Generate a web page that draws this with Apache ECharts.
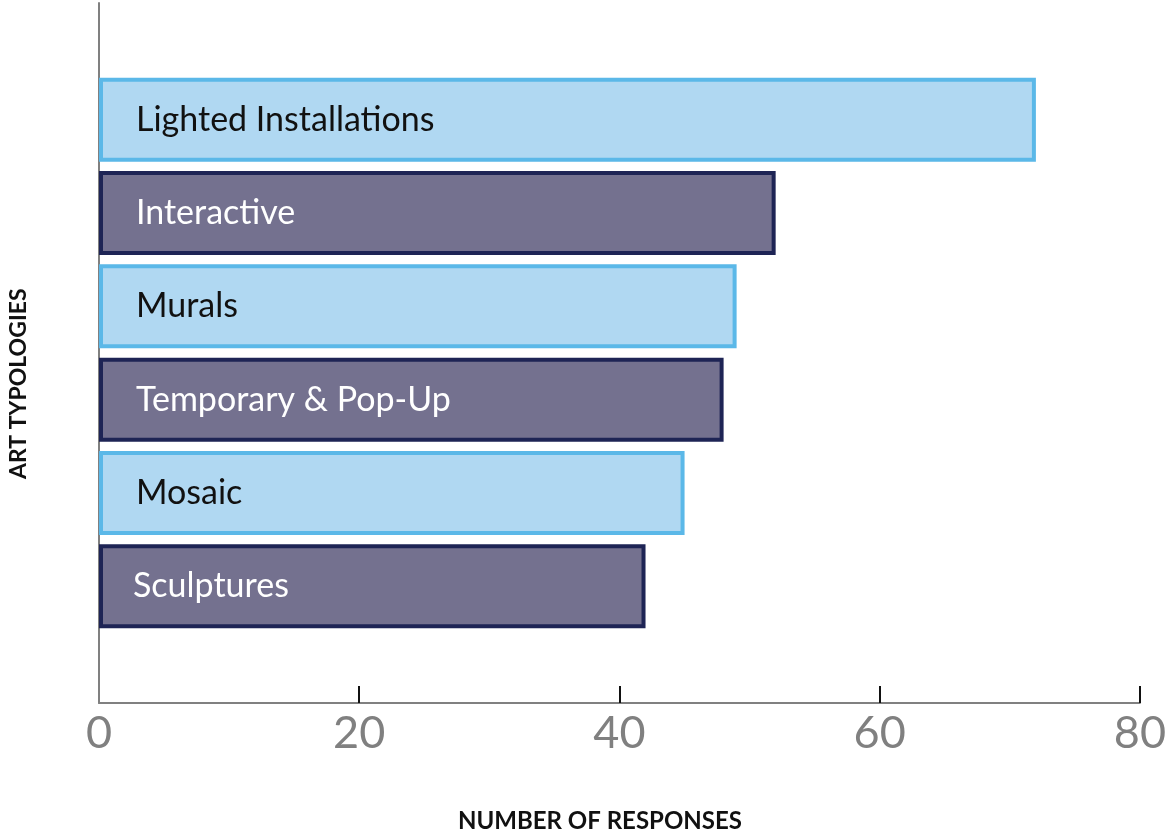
<!DOCTYPE html>
<html>
<head>
<meta charset="utf-8">
<script src="https://cdn.jsdelivr.net/npm/echarts@6/dist/echarts.min.js"></script>
<style>html,body{margin:0;padding:0;background:#fff;}#chart{width:1169px;height:835px;}</style>
</head>
<body>
<div id="chart"></div>
<script>
const categories = ["Lighted Installations", "Interactive", "Murals", "Temporary & Pop-Up", "Mosaic", "Sculptures"];
const responses = [72, 52, 49, 48, 45, 42];
const tickValues = [0, 20, 40, 60, 80];
const xTitle = "NUMBER OF RESPONSES";
const yTitle = "ART TYPOLOGIES";

const light = { fill: "#b0d8f2", border: "#5bb8e8", text: "#111111" };
const dark = { fill: "#74718f", border: "#1e2455", text: "#ffffff" };

const chart = echarts.init(document.getElementById('chart'), null, { renderer: 'canvas' });
const barData = responses.map((v, i) => {
  const s = i % 2 === 0 ? light : dark;
  return {
    value: v,
    itemStyle: { color: s.fill, borderColor: s.border, borderWidth: 4 },
    label: { color: s.text, distance: i === responses.length - 1 ? 34 : 37 }
  };
});

chart.setOption({
  animation: false,
  grid: [
    { left: 99, right: 29, top: 3, bottom: 132 },
    { left: 99, right: 29, top: 73, bottom: 202 }
  ],
  xAxis: [
    {
      gridIndex: 0, type: 'value', min: tickValues[0], max: tickValues[tickValues.length - 1], interval: 20,
      axisLine: { show: true, lineStyle: { color: '#808080', width: 2 } },
      axisTick: { show: true, inside: true, length: 17, customValues: tickValues.slice(1), lineStyle: { color: '#111111', width: 2 } },
      axisLabel: { color: '#808080', fontSize: 45, fontFamily: 'Lato', margin: 8 },
      splitLine: { show: false }
    },
    {
      gridIndex: 1, type: 'value', min: 0, max: 80, show: false, splitLine: { show: false }
    }
  ],
  yAxis: [
    {
      gridIndex: 0, type: 'value', min: 0, max: 1,
      axisLine: { show: true, lineStyle: { color: '#808080', width: 2 } },
      axisTick: { show: false }, axisLabel: { show: false }, splitLine: { show: false }
    },
    {
      gridIndex: 1, type: 'category', data: categories, inverse: true, show: false
    }
  ],
  series: [{
    type: 'bar', xAxisIndex: 1, yAxisIndex: 1,
    data: barData,
    barWidth: 84,
    z: 3,
    label: {
      show: true, position: 'insideLeft',
      formatter: p => categories[p.dataIndex],
      fontSize: 34, fontFamily: 'Lato'
    }
  }],
  graphic: [
    {
      type: 'text', left: 600 - 142, top: 809,
      style: { text: xTitle, font: 'bold 24px Lato', fill: '#111111' }
    },
    {
      type: 'text', x: 7, y: 479, rotation: Math.PI / 2,
      style: { text: yTitle, font: 'bold 23px Lato', fill: '#111111', textVerticalAlign: 'top' }
    }
  ]
});
</script>
</body>
</html>
